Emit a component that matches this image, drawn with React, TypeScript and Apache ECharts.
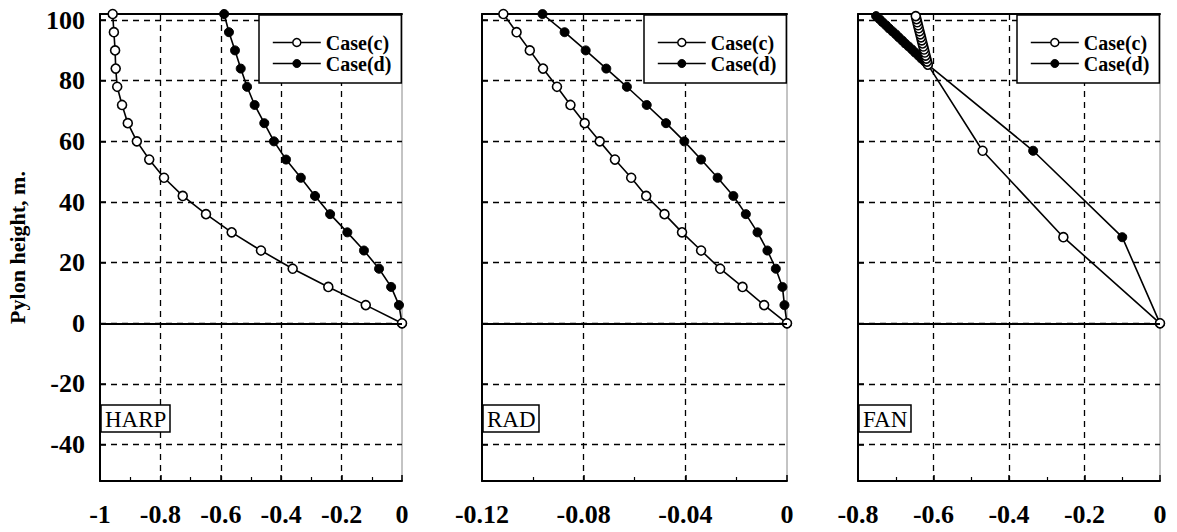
import React, { useEffect, useRef } from 'react';
import * as echarts from 'echarts';

const heights = [0, 6, 12, 18, 24, 30, 36, 42, 48, 54, 60, 66, 72, 78, 84, 90, 96, 102];
const harpCaseC = [0, -0.12, -0.244, -0.362, -0.467, -0.564, -0.649, -0.726, -0.788, -0.837, -0.878, -0.908, -0.927, -0.943, -0.948, -0.95, -0.954, -0.958];
const harpCaseD = [0, -0.01, -0.036, -0.076, -0.126, -0.181, -0.238, -0.288, -0.335, -0.384, -0.424, -0.456, -0.488, -0.513, -0.534, -0.553, -0.573, -0.589];
const radCaseC = [0, -0.009, -0.0175, -0.0263, -0.0338, -0.0413, -0.0482, -0.0554, -0.0613, -0.0677, -0.0737, -0.0796, -0.0852, -0.0905, -0.096, -0.1012, -0.1064, -0.1116];
const radCaseD = [0, -0.001, -0.0018, -0.0044, -0.0077, -0.0116, -0.0162, -0.0211, -0.0273, -0.0338, -0.0404, -0.0476, -0.0552, -0.063, -0.0711, -0.0792, -0.0875, -0.0962];
const fanHeights = [0, 28.4, 56.9, 85.3, 86.3, 87.3, 88.3, 89.3, 90.3, 91.3, 92.3, 93.3, 94.3, 95.3, 96.3, 97.3, 98.3, 99.3, 100.3, 101.3];
const fanCaseC = [0, -0.256, -0.47, -0.615, -0.617, -0.619, -0.621, -0.623, -0.625, -0.627, -0.629, -0.631, -0.633, -0.635, -0.637, -0.639, -0.641, -0.643, -0.645, -0.647];
const fanCaseD = [0, -0.1, -0.336, -0.615, -0.623, -0.632, -0.64, -0.649, -0.657, -0.666, -0.675, -0.683, -0.692, -0.7, -0.709, -0.718, -0.726, -0.735, -0.743, -0.752];

const panelNames = ['HARP', 'RAD', 'FAN'];
const xMins = [-1, -0.12, -0.8];
const xMaxs = [0, 0, 0];
const xIntervals = [0.2, 0.04, 0.2];
const yTicks = [-40, -20, 0, 20, 40, 60, 80, 100];
const yMin = -52;
const yMax = 102;
const seriesNames = ['Case(c)', 'Case(d)'];
const yAxisName = 'Pylon height, m.';

const FONT = "'Liberation Serif', 'Times New Roman', serif";

export default function App() {
  const ref = useRef<HTMLDivElement>(null);
  useEffect(() => {
    if (!ref.current) return;
    const chart = echarts.init(ref.current, undefined, { renderer: 'svg' });

    const grids = [
      { left: 100, width: 302 },
      { left: 482, width: 305 },
      { left: 858, width: 302 },
    ];
    const top = 14;
    const height = 467;

    const panelData = [
      { h: heights, c: harpCaseC, d: harpCaseD },
      { h: heights, c: radCaseC, d: radCaseD },
      { h: fanHeights, c: fanCaseC, d: fanCaseD },
    ];

    const xAxes: any[] = [];
    const yAxes: any[] = [];
    const series: any[] = [];
    const legends: any[] = [];
    const titles: any[] = [];

    grids.forEach((g, i) => {
      xAxes.push({
        type: 'value',
        gridIndex: i,
        position: 'bottom',
        min: xMins[i],
        max: xMaxs[i],
        interval: xIntervals[i],
        axisLine: { show: true, onZero: false, lineStyle: { color: '#000', width: 2 } },
        axisTick: { show: true, inside: true, length: 6, lineStyle: { color: '#000', width: 1.5 } },
        minorTick: { show: true, splitNumber: 2, length: 4, lineStyle: { color: '#000', width: 1.2 } },
        splitLine: {
          show: true,
          showMinLine: false,
          showMaxLine: false,
          lineStyle: { color: '#000', width: 1.3, type: [6, 5] },
        },
        axisLabel: {
          show: true,
          margin: 20,
          fontSize: 26,
          fontWeight: 'bold',
          fontFamily: FONT,
          color: '#000',
        },
      });
      xAxes.push({
        type: 'value',
        gridIndex: i,
        position: 'top',
        min: xMins[i],
        max: xMaxs[i],
        interval: xIntervals[i],
        axisLine: { show: true, onZero: false, lineStyle: { color: '#000', width: 2 } },
        axisTick: { show: false },
        axisLabel: { show: false },
        splitLine: { show: false },
      });
      yAxes.push({
        type: 'value',
        gridIndex: i,
        min: yMin,
        max: yMax,
        axisLine: { show: true, onZero: false, lineStyle: { color: '#000', width: 2 } },
        axisTick: { show: true, inside: true, length: 6, customValues: yTicks, lineStyle: { color: '#000', width: 1.5 } },
        splitLine: {
          show: true,
          lineStyle: { color: '#000', width: 1.3, type: [6, 5] },
        },
        axisLabel: {
          show: i === 0,
          customValues: yTicks,
          margin: 15,
          fontSize: 26,
          fontWeight: 'bold',
          fontFamily: FONT,
          color: '#000',
        },
      });

      const pd = panelData[i];
      series.push({
        name: seriesNames[1],
        type: 'line',
        xAxisIndex: i * 2,
        yAxisIndex: i,
        data: pd.h.map((h, k) => [pd.d[k], h]),
        symbol: 'circle',
        symbolSize: 9,
        clip: false,
        lineStyle: { color: '#000', width: 1.6 },
        itemStyle: { color: '#000', borderColor: '#000', borderWidth: 1 },
        z: 3,
      });
      series.push({
        name: seriesNames[0],
        type: 'line',
        xAxisIndex: i * 2,
        yAxisIndex: i,
        data: pd.h.map((h, k) => [pd.c[k], h]),
        symbol: 'circle',
        symbolSize: 9,
        clip: false,
        lineStyle: { color: '#000', width: 1.6 },
        itemStyle: { color: '#fff', borderColor: '#000', borderWidth: 1.6 },
        z: 4,
        markLine: {
          silent: true,
          symbol: ['none', 'none'],
          label: { show: false },
          lineStyle: { color: '#000', type: 'solid', width: 2 },
          data: [{ yAxis: 0 }],
        },
      });

      legends.push({
        orient: 'vertical',
        left: g.left + g.width - 143,
        top: 15,
        itemWidth: 48,
        itemHeight: 10,
        itemGap: 0,
        padding: [17, 10, 9, 13],
        backgroundColor: '#fff',
        borderColor: '#000',
        borderWidth: 1.5,
        borderRadius: 0,
        selectedMode: false,
        textStyle: {
          fontSize: 20,
          fontWeight: 'bold',
          fontFamily: FONT,
          color: '#000',
          lineHeight: 21,
        },
        data: [
          { name: seriesNames[0], itemStyle: { color: '#fff', borderColor: '#000', borderWidth: 1.5 }, lineStyle: { color: '#000', width: 1.6 } },
          { name: seriesNames[1], itemStyle: { color: '#000', borderColor: '#000', borderWidth: 1 }, lineStyle: { color: '#000', width: 1.6 } },
        ],
      });

      titles.push({
        text: panelNames[i],
        left: g.left + 1,
        top: 405,
        padding: [2, 4, 1, 4],
        borderColor: '#000',
        borderWidth: 1.5,
        backgroundColor: '#fff',
        textStyle: {
          fontSize: 23,
          fontWeight: 'normal',
          fontFamily: FONT,
          color: '#000',
          lineHeight: 24,
        },
      });
    });

    chart.setOption({
      animation: false,
      backgroundColor: '#fff',
      title: titles,
      legend: legends,
      grid: grids.map((g) => ({
        left: g.left,
        width: g.width,
        top,
        height,
        show: true,
        borderColor: '#888',
        borderWidth: 1,
        backgroundColor: 'transparent',
      })),
      xAxis: xAxes,
      yAxis: yAxes,
      series,
      graphic: [
        {
          type: 'text',
          x: 17,
          y: top + height / 2,
          rotation: Math.PI / 2,
          style: {
            text: yAxisName,
            fontSize: 22,
            fontWeight: 'bold',
            fontFamily: FONT,
            fill: '#000',
            align: 'center',
            verticalAlign: 'middle',
          },
        },
      ],
    });
    return () => chart.dispose();
  }, []);

  return (
    <div
      ref={ref}
      style={{ position: 'absolute', left: 0, top: 0, width: 1177, height: 532, background: '#fff' }}
    />
  );
}
